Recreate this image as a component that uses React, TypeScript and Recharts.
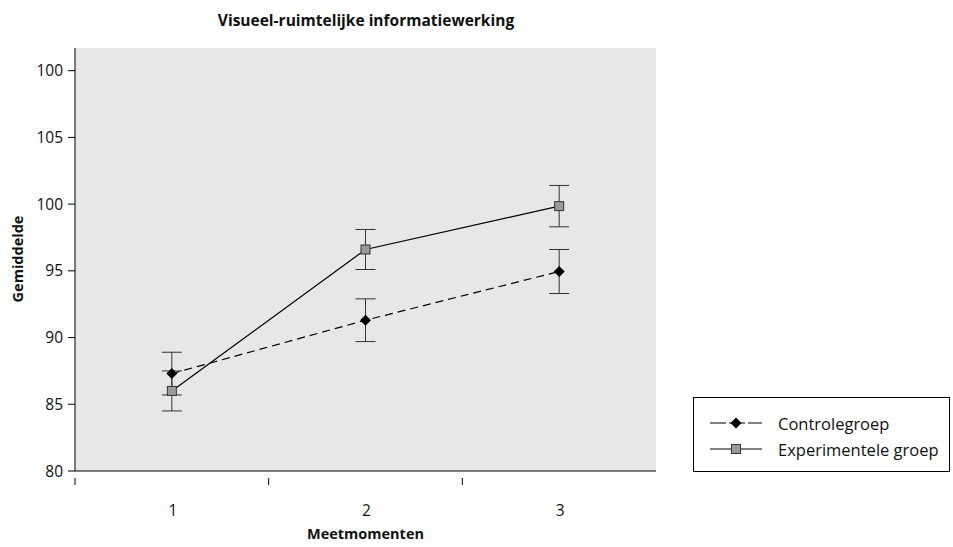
import { LineChart, Line, XAxis, YAxis, CartesianGrid, ErrorBar } from 'recharts';

const moments = [1, 2, 3];
const controle = [87.3, 91.3, 94.95];
const controleErr = [1.6, 1.6, 1.65];
const experimenteel = [86.0, 96.6, 99.85];
const experimenteelErr = [1.5, 1.5, 1.55];
const yTicks = [80, 85, 90, 95, 100, 105, 110];
const yTickLabels = ['80', '85', '90', '95', '100', '105', '100'];
const xTicks = [0.5, 1, 1.5, 2, 2.5, 3];

const data = moments.map((m, i) => ({
  moment: m,
  controle: controle[i],
  controleErr: controleErr[i],
  experimenteel: experimenteel[i],
  experimenteelErr: experimenteelErr[i],
}));

const FONT = '"Open Sans", "DejaVu Sans", sans-serif';

// zwarte ruit
function Diamond({ cx, cy }: any) {
  if (cx == null || cy == null) return null;
  const r = 5.5;
  return <path d={`M${cx},${cy - r}L${cx + r},${cy}L${cx},${cy + r}L${cx - r},${cy}Z`} fill="#000" />;
}

// grijs vierkant
function Square({ cx, cy }: any) {
  if (cx == null || cy == null) return null;
  const s = 9;
  return <rect x={cx - s / 2} y={cy - s / 2} width={s} height={s} fill="#9a9a9a" stroke="#333" strokeWidth={1} />;
}

function XTick({ x, y, payload }: any) {
  const v = payload.value;
  if (Number.isInteger(v)) {
    return (
      <text x={x + 1} y={y + 33} textAnchor="middle" dominantBaseline="middle" fontSize={15.5} fontFamily={FONT} fill="#111">
        {v}
      </text>
    );
  }
  return <line x1={x} x2={x} y1={y - 1} y2={y + 6} stroke="#000" strokeWidth={1} />;
}

function LegendBox() {
  const rows = [
    { name: 'Controlegroep', dash: '16 3', marker: 'diamond' },
    { name: 'Experimentele groep', dash: undefined, marker: 'square' },
  ];
  return (
    <div style={{ position: 'absolute', left: 693, top: 397, width: 257, height: 75, border: '1px solid #000', boxSizing: 'border-box', background: '#fff', paddingTop: 12, fontFamily: FONT }}>
      {rows.map((r) => (
        <div key={r.name} style={{ display: 'flex', alignItems: 'center', height: 26 }}>
          <svg width={70} height={14} style={{ marginLeft: 14 }}>
            <line x1={2} x2={54} y1={7} y2={7} stroke="#000" strokeWidth={1.2} strokeDasharray={r.dash} />
            {r.marker === 'diamond' ? <Diamond cx={28} cy={7} /> : <Square cx={28} cy={7} />}
          </svg>
          <span style={{ fontSize: 16.5, color: '#111', marginLeft: 0 }}>{r.name}</span>
        </div>
      ))}
    </div>
  );
}

export default function App() {
  return (
    <div style={{ position: 'absolute', left: 0, top: 0, width: 953, height: 547, background: '#fff' }}>
      <div style={{ position: 'absolute', left: 0, width: 732, top: 9, textAlign: 'center', fontFamily: FONT, fontWeight: 700, fontSize: 15.5, color: '#111' }}>
        Visueel-ruimtelijke informatiewerking
      </div>
      <LineChart width={953} height={547} data={data} margin={{ top: 48, right: 297, bottom: 6, left: 0 }}>
        <CartesianGrid fill="#e6e7e9" horizontal={false} vertical={false} />
        <XAxis
          dataKey="moment"
          type="number"
          domain={[0.5, 3.5]}
          ticks={xTicks}
          tick={<XTick />}
          tickLine={false}
          axisLine={{ stroke: '#000' }}
          height={70}
          label={{ value: 'Meetmomenten', position: 'insideBottom', offset: 2, fontFamily: FONT, fontWeight: 700, fontSize: 14.5, fill: '#111' }}
        />
        <YAxis
          type="number"
          domain={[80, 111.7]}
          ticks={yTicks}
          allowDataOverflow
          width={75}
          tickSize={7}
          tickMargin={5}
          tickLine={{ stroke: '#000' }}
          axisLine={{ stroke: '#000' }}
          tickFormatter={(v: number) => yTickLabels[yTicks.indexOf(v)]}
          tick={{ fontFamily: FONT, fontSize: 15.5, fill: '#111' }}
          label={{
            content: () => (
              <text x={19} y={259} transform="rotate(-90 19 259)" textAnchor="middle" dominantBaseline="middle" fontFamily={FONT} fontWeight={700} fontSize={14.5} fill="#111">
                Gemiddelde
              </text>
            ),
          }}
        />
        <Line
          dataKey="controle"
          name="Controlegroep"
          stroke="#000"
          strokeWidth={1.2}
          strokeDasharray="8 5"
          dot={<Diamond />}
          activeDot={false}
          isAnimationActive={false}
        >
          <ErrorBar dataKey="controleErr" direction="y" width={10} stroke="#333" strokeWidth={1} />
        </Line>
        <Line
          dataKey="experimenteel"
          name="Experimentele groep"
          stroke="#000"
          strokeWidth={1.2}
          dot={<Square />}
          activeDot={false}
          isAnimationActive={false}
        >
          <ErrorBar dataKey="experimenteelErr" direction="y" width={10} stroke="#333" strokeWidth={1} />
        </Line>
      </LineChart>
      <LegendBox />
    </div>
  );
}
